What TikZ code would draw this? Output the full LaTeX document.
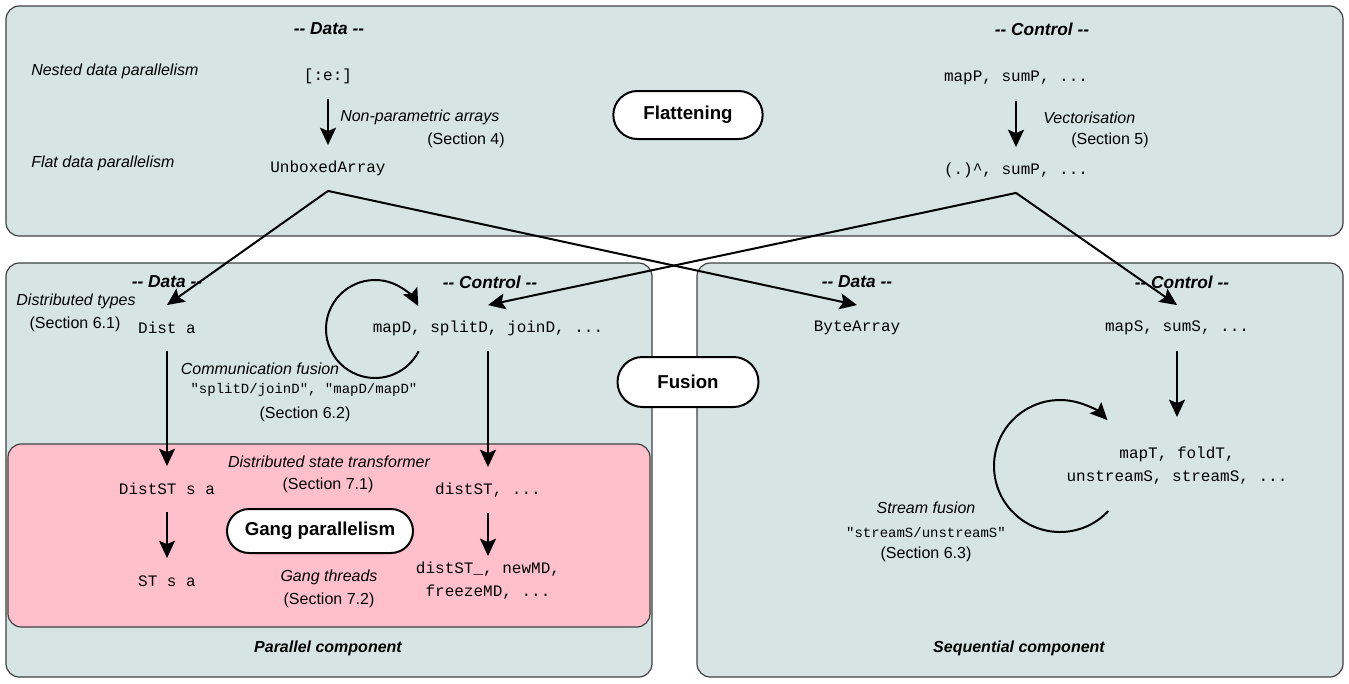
\documentclass[tikz,border=0pt]{standalone}
\usepackage{fontspec}
\setmainfont{Liberation Sans}
\setmonofont{Liberation Mono}
\usetikzlibrary{arrows.meta, shapes.misc}

\definecolor{panelfill}{RGB}{214,228,228}
\definecolor{gangfill}{RGB}{255,192,203}

\tikzset{
  panel/.style={draw=black!75, line width=0.9pt, fill=panelfill, rounded corners=10pt},
  gangpanel/.style={panel, fill=gangfill},
  phase/.style={draw, line width=1.5pt, fill=white, rounded rectangle, inner sep=0pt,
    font=\fontsize{14}{16}\selectfont\bfseries},
  heading/.style={font=\fontsize{13}{15}\selectfont\bfseries\itshape, inner sep=0pt},
  compname/.style={font=\fontsize{12}{14}\selectfont\bfseries\itshape, inner sep=0pt},
  note/.style={font=\fontsize{12}{14}\selectfont\itshape, inner sep=0pt},
  sect/.style={font=\fontsize{12}{14}\selectfont, inner sep=0pt},
  code/.style={font=\fontsize{12}{14}\selectfont\ttfamily, inner sep=0pt, minimum height=34pt},
  codelines/.style={code, minimum height=0pt, inner ysep=4.5pt, align=center,
    font=\fontsize{12}{17.25}\selectfont\ttfamily},
  rulename/.style={font=\fontsize{10.5}{12}\selectfont\ttfamily, inner sep=0pt},
  flow/.style={-{Stealth[length=13pt, width=12pt, inset=2.5pt]}, line width=1.5pt},
}

\begin{document}
\begin{tikzpicture}[x=0.75pt, y=-0.75pt]
  \useasboundingbox (0,0) rectangle (1349,683);

  % Panels
  \draw[panel] (6,6) rectangle (1343,236);
  \draw[panel] (6,263) rectangle (652,677);
  \draw[panel] (697,263) rectangle (1343,677);
  \draw[gangpanel] (8,444) rectangle (650,627);

  % Flattening
  \node[heading] (fdata) at (329,29) {-{}- Data -{}-};
  \node[heading] (fctrl) at (1042,29) {-{}- Control -{}-};
  \node[note, anchor=west] (nestedlbl) at (31,71) {Nested data parallelism};
  \node[note, anchor=west] (flatlbl) at (31,163) {Flat data parallelism};
  \node[code] (nested) at (328,76) {[:e:]};
  \node[code] (unboxed) at (328,168) {UnboxedArray};
  \node[note, anchor=west] (nonparam) at (340,117) {Non-parametric arrays};
  \node[sect, anchor=east] (sec4) at (505,140) {(Section 4)};
  \node[phase, minimum width=112pt, minimum height=36pt] (flattening) at (688,115) {Flattening};
  \node[code] (mapp) at (1016,78) {mapP, sumP, ...};
  \node[code] (vecops) at (1016,170) {(.)\textasciicircum, sumP, ...};
  \node[note, anchor=west] (vect) at (1043,118) {Vectorisation};
  \node[sect, anchor=west] (sec5) at (1071,140) {(Section 5)};

  \draw[flow] (nested) -- (unboxed);
  \draw[flow] (mapp) -- (vecops);

  % Parallel component
  \node[heading] (pdata) at (167,282) {-{}- Data -{}-};
  \node[heading] (pctrl) at (490,282) {-{}- Control -{}-};
  \node[note] (disttypes) at (76,301) {Distributed types};
  \node[sect] (sec61) at (75,324) {(Section 6.1)};
  \node[code] (dista) at (167,328) {Dist a};
  \node[code] (mapd) at (488,328) {mapD, splitD, joinD, ...};
  \node[note] (commfus) at (260,369) {Communication fusion};
  \node[rulename] (commrules) at (304,390) {"splitD/joinD", "mapD/mapD"};
  \node[sect] (sec62) at (305,414) {(Section 6.2)};

  \node[note] (dstlbl) at (329,462) {Distributed state transformer};
  \node[sect] (sec71) at (328,485) {(Section 7.1)};
  \node[code] (diststa) at (167,489) {DistST s a};
  \node[code] (diststc) at (488,490) {distST, ...};
  \node[phase, minimum width=139.5pt, minimum height=33pt] (gang) at (320,531) {Gang parallelism};
  \node[code] (sta) at (167,581) {ST s a};
  \node[note] (ganglbl) at (329,577) {Gang threads};
  \node[sect] (sec72) at (329,600) {(Section 7.2)};
  \node[codelines] (distops) at (488,581) {distST\_, newMD,\\freezeMD, ...};
  \node[compname] (parlbl) at (328,648) {Parallel component};

  \draw[flow] (dista) -- (diststa);
  \draw[flow] (mapd) -- (diststc);
  \draw[flow] (diststa) -- (sta);
  \draw[flow] (diststc) -- (distops);

  \coordinate (commloop) at (375,329);
  \draw[flow] (commloop) ++(-27:36.75pt) arc[start angle=-27, end angle=-332, radius=36.75pt];

  % Sequential component
  \node[heading] (sdata) at (857,282) {-{}- Data -{}-};
  \node[heading] (sctrl) at (1182,282) {-{}- Control -{}-};
  \node[code] (bytearr) at (857,328) {ByteArray};
  \node[code] (maps) at (1177,328) {mapS, sumS, ...};
  \node[codelines] (mapt) at (1177,466) {mapT, foldT,\\unstreamS, streamS, ...};
  \node[note] (streamfus) at (926,508) {Stream fusion};
  \node[rulename] (streamrule) at (926,532) {"streamS/unstreamS"};
  \node[sect] (sec63) at (926,554) {(Section 6.3)};
  \node[compname] (seqlbl) at (1019,648) {Sequential component};

  \draw[flow] (maps.south) -- ([yshift=18pt]mapt.north);

  \coordinate (streamloop) at (1060,466);
  \draw[flow] (streamloop) ++(-43:49.5pt) arc[start angle=-43, end angle=-316, radius=49.5pt];

  % Fusion
  \node[phase, minimum width=105.75pt, minimum height=37.5pt] (fusion) at (688,382) {Fusion};

  % Flattening feeds both components
  \draw[flow] (unboxed.south) -- (dista.north);
  \draw[flow] (unboxed.south) -- (bytearr.north);
  \draw[flow] (vecops.south) -- (mapd.north);
  \draw[flow] (vecops.south) -- (maps.north);
\end{tikzpicture}
\end{document}
